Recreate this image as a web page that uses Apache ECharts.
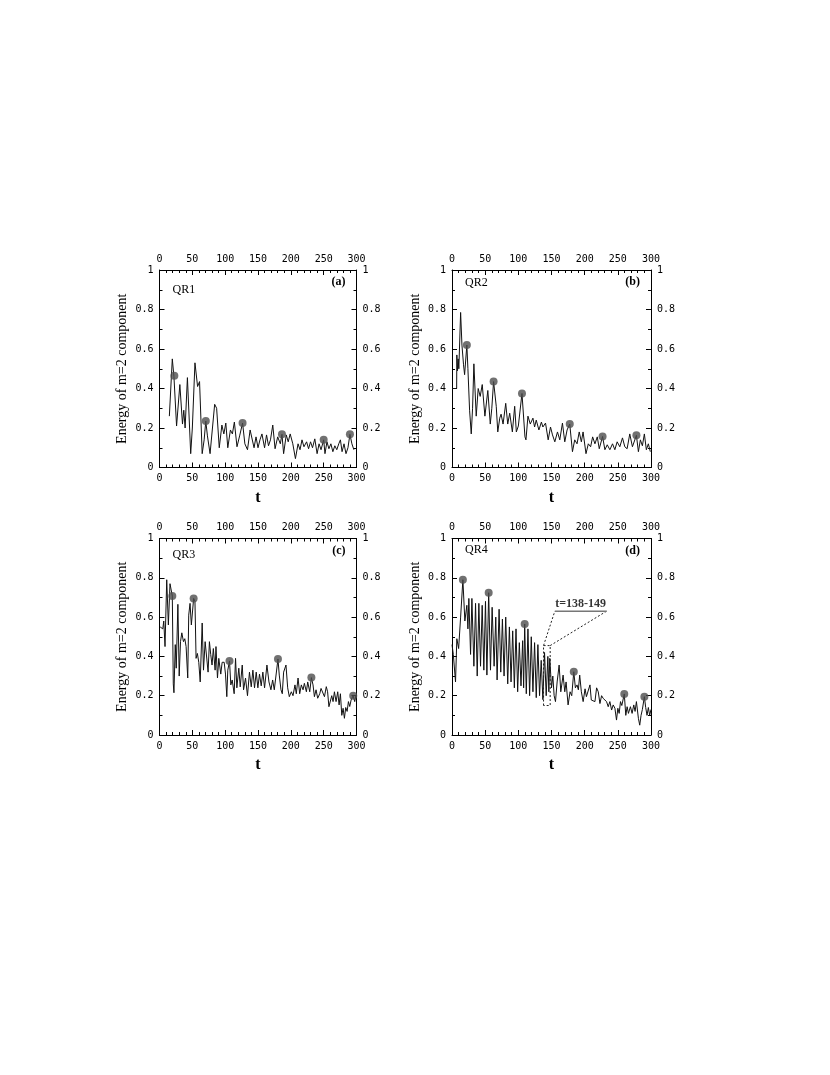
<!DOCTYPE html>
<html>
<head>
<meta charset="utf-8">
<script src="https://cdn.jsdelivr.net/npm/echarts@6/dist/echarts.min.js"></script>
<style>
html,body{margin:0;padding:0;background:#fff;}
#chart{width:830px;height:1075px;}
</style>
</head>
<body>
<div id="chart"></div>
<script>
// ---- data (t, energy of m=2 component) ----
const panelNames = ['QR1', 'QR2', 'QR3', 'QR4'];
const panelTags = ['(a)', '(b)', '(c)', '(d)'];
const xTickValues = [0, 50, 100, 150, 200, 250, 300];
const yTickValues = [0, 0.2, 0.4, 0.6, 0.8, 1];

const qr1 = [[15,0.26],[19.5,0.55],[22,0.46],[26,0.21],[31,0.42],[35,0.22],[37,0.29],[39,0.2],[42.5,0.455],[47.5,0.07],[50,0.2],[54,0.53],[58,0.41],[61,0.435],[65,0.07],[68,0.14],[70.5,0.235],[73,0.16],[77,0.07],[84,0.32],[87,0.3],[91,0.1],[95,0.215],[98,0.17],[101,0.225],[104,0.1],[108,0.19],[111,0.17],[114,0.23],[118,0.105],[122,0.16],[126.5,0.225],[130,0.12],[134,0.09],[138,0.19],[141,0.18],[144,0.1],[147,0.155],[150,0.1],[153,0.14],[156,0.17],[160,0.1],[163,0.165],[166,0.11],[169,0.14],[172.5,0.215],[176,0.095],[180,0.155],[184,0.12],[186.5,0.168],[189,0.07],[193,0.165],[196,0.13],[199,0.17],[203,0.12],[207,0.045],[211,0.12],[214,0.09],[217,0.14],[220,0.105],[224,0.13],[227,0.095],[230,0.13],[233,0.1],[236.5,0.145],[240,0.07],[243,0.12],[246,0.09],[250,0.14],[252,0.07],[255,0.13],[258,0.095],[261,0.12],[264,0.08],[267,0.11],[270,0.09],[273,0.12],[275.5,0.14],[278,0.08],[281,0.12],[284,0.07],[287,0.1],[290,0.168],[293,0.12],[296,0.09]];
const qr1Marks = [[22.6,0.465],[70.5,0.235],[126.5,0.225],[186.5,0.168],[250,0.14],[290,0.168]];

const qr2 = [[0,0.40],[7,0.40],[7.3,0.57],[8.3,0.49],[9.3,0.55],[10.3,0.5],[13,0.785],[15,0.62],[17.4,0.52],[19,0.47],[22.4,0.62],[24,0.5],[26.5,0.29],[27.5,0.3],[29,0.17],[31,0.3],[33,0.525],[36.5,0.26],[39.5,0.4],[42.5,0.36],[45.6,0.42],[49.6,0.26],[54,0.39],[57.7,0.22],[60,0.3],[62.7,0.435],[66.7,0.31],[69,0.18],[72,0.25],[74,0.27],[77,0.22],[81,0.325],[84,0.22],[87,0.275],[91,0.18],[94.5,0.31],[97,0.18],[100,0.21],[102,0.2],[105.5,0.375],[110,0.155],[111.5,0.14],[114.5,0.26],[118,0.22],[122,0.25],[124.5,0.205],[127,0.24],[131,0.19],[134.8,0.23],[137,0.205],[141,0.225],[145,0.14],[148.5,0.205],[151.5,0.165],[155,0.13],[159,0.18],[162.5,0.14],[166.5,0.225],[170,0.13],[173.5,0.19],[177.5,0.22],[181.6,0.08],[185,0.14],[188.5,0.12],[191.8,0.18],[195,0.13],[197.6,0.18],[202,0.07],[205.5,0.12],[209,0.105],[212,0.155],[215.5,0.12],[219,0.155],[222,0.095],[227,0.157],[230.5,0.09],[234,0.115],[238,0.09],[242,0.12],[245.5,0.09],[249,0.13],[253,0.105],[257,0.15],[260.5,0.105],[264,0.095],[268,0.17],[272,0.105],[278,0.163],[281,0.08],[284,0.14],[287,0.11],[290,0.17],[293,0.09],[296,0.12],[299,0.08]];
const qr2Marks = [[22.4,0.62],[62.7,0.435],[105.5,0.375],[177.5,0.22],[227,0.157],[278,0.163]];

const qr3 = [[1,0.55],[3,0.56],[5,0.54],[6.5,0.58],[8.4,0.45],[11,0.79],[13.5,0.56],[16,0.77],[18.6,0.78],[19.5,0.707],[21,0.26],[22,0.215],[24,0.46],[25.5,0.34],[28,0.665],[30,0.3],[32,0.475],[34,0.52],[36.5,0.475],[38.5,0.49],[40.5,0.45],[43,0.29],[44.5,0.61],[46.5,0.67],[48.5,0.56],[52,0.695],[54,0.68],[55.7,0.39],[57.7,0.415],[59.8,0.37],[62,0.27],[65,0.57],[67,0.33],[69.5,0.475],[72,0.465],[74,0.32],[76,0.475],[78,0.41],[80,0.356],[82,0.44],[84.7,0.33],[86,0.45],[88.3,0.29],[90.3,0.39],[93.3,0.31],[95.4,0.37],[98.5,0.37],[100.5,0.31],[102.5,0.195],[104,0.33],[106.6,0.377],[108.6,0.255],[110.7,0.28],[113.7,0.21],[115.8,0.39],[117.8,0.24],[120.8,0.34],[122.9,0.245],[126,0.356],[128,0.23],[131,0.29],[134,0.2],[137,0.32],[139.7,0.245],[142.2,0.33],[144.7,0.24],[147.3,0.32],[149.8,0.24],[152.3,0.31],[154.9,0.25],[157.4,0.32],[160,0.24],[163.6,0.356],[166.7,0.27],[169.7,0.23],[172.3,0.28],[174.8,0.23],[180.4,0.387],[182.4,0.305],[185,0.23],[187,0.21],[189,0.32],[192.6,0.356],[195.2,0.24],[197.7,0.195],[200.8,0.22],[203.3,0.2],[206.3,0.255],[208.3,0.21],[211,0.29],[213.5,0.21],[216,0.255],[218.6,0.23],[220.6,0.263],[223.7,0.22],[225.7,0.27],[228.8,0.22],[231.3,0.292],[233.8,0.255],[235.9,0.195],[238.4,0.23],[240.9,0.187],[244,0.21],[246,0.237],[249,0.23],[251.2,0.195],[254,0.246],[256,0.22],[258,0.144],[260,0.153],[262.3,0.2],[264.3,0.17],[266.4,0.22],[268.9,0.17],[271.4,0.22],[273.5,0.153],[275.5,0.21],[277.6,0.1],[279.6,0.136],[281.6,0.085],[283.6,0.14],[285.7,0.12],[287.7,0.17],[289.7,0.145],[291.8,0.178],[294.8,0.2],[297.3,0.17],[299,0.2]];
const qr3Marks = [[19.5,0.707],[52,0.695],[106.6,0.377],[180.4,0.387],[231.3,0.292],[295,0.2]];

const qr4 = [[0,0.46],[2,0.41],[5.3,0.27],[7.3,0.49],[10,0.44],[13,0.6],[16.4,0.79],[19.4,0.58],[22.4,0.66],[24,0.54],[25.4,0.695],[28,0.41],[30,0.695],[33,0.35],[35.5,0.67],[38,0.3],[40.5,0.67],[43,0.35],[45.5,0.66],[48,0.33],[50.5,0.68],[52.6,0.305],[55.3,0.724],[58,0.33],[60.5,0.65],[63.5,0.35],[66,0.6],[68,0.28],[71,0.64],[73.5,0.32],[76,0.59],[78.5,0.3],[81,0.6],[84,0.26],[86.5,0.55],[89,0.27],[91.5,0.53],[94,0.24],[96.5,0.54],[99,0.22],[101.5,0.47],[104,0.25],[106.5,0.48],[108,0.24],[109.6,0.565],[112,0.21],[114.5,0.54],[117,0.2],[119.5,0.5],[122,0.22],[124.5,0.47],[127,0.19],[129.5,0.46],[132,0.2],[134.5,0.38],[137,0.18],[139.5,0.42],[142,0.2],[144.5,0.4],[146,0.22],[147.4,0.39],[150,0.24],[152,0.3],[154,0.2],[156,0.17],[158.5,0.27],[161.5,0.356],[164,0.22],[167.5,0.305],[170,0.22],[172,0.27],[175,0.153],[178,0.22],[180.5,0.2],[183.6,0.322],[186,0.24],[188.5,0.255],[190.5,0.23],[192.5,0.305],[195,0.22],[197.7,0.17],[200.6,0.235],[202.6,0.195],[205,0.2],[208,0.255],[210,0.178],[213,0.186],[215.5,0.17],[218,0.24],[220.5,0.22],[223,0.16],[225.5,0.2],[228,0.186],[231,0.195],[233,0.17],[235.5,0.144],[238,0.17],[240.6,0.127],[243,0.153],[245.6,0.136],[248,0.076],[250,0.136],[252,0.11],[254,0.17],[256,0.15],[259.7,0.209],[262,0.1],[264,0.144],[266,0.11],[269,0.144],[271.5,0.11],[274,0.153],[276,0.12],[278,0.17],[281,0.085],[283,0.05],[285,0.1],[287,0.13],[290,0.195],[292,0.14],[294,0.1],[296,0.14],[298,0.1],[300,0.13]];
const qr4Marks = [[16.4,0.79],[55.3,0.724],[109.6,0.565],[183.6,0.322],[259.7,0.209],[290,0.195]];

// annotation in panel (d): zoom window t=138-149
const annText = 't=138-149';
const annRect = [[138,0.15],[138,0.455],[148,0.455],[148,0.15],[138,0.15]];
const annLeftLeader = [[138,0.455],[155,0.63]];
const annRightLeader = [[148,0.455],[233,0.63]];
const annUnderline = [[155,0.63],[233,0.63]];
const annLabelPos = [[194,0.63]];

const seriesData = [qr1, qr2, qr3, qr4];
const markData = [qr1Marks, qr2Marks, qr3Marks, qr4Marks];

// ---- layout ----
const grids = [
  {left:159.5, top:270, width:197, height:197.5},
  {left:452, top:270, width:199, height:197.5},
  {left:159.5, top:538.5, width:197, height:196.5},
  {left:452, top:538.5, width:199, height:196.5}
];

const black = '#000';
const tickFont = 'DejaVu Sans Mono';
const serif = 'Liberation Serif';

function xAxisDef(g, pos) {
  return {
    type:'value', gridIndex:g, position:pos, min:0, max:300, interval:50,
    axisLine:{show:true, onZero:false, lineStyle:{color:black, width:1}},
    axisTick:{show:true, inside:true, length:5, lineStyle:{color:black, width:1}},
    minorTick:{show:true, splitNumber:5, length:3, lineStyle:{color:black, width:1}},
    splitLine:{show:false}, minorSplitLine:{show:false},
    axisLabel:{show:true, margin:6, fontFamily:tickFont, fontSize:10, color:black,
      customValues: xTickValues},
    name: pos === 'bottom' ? 't' : '',
    nameLocation:'middle', nameGap:22,
    nameTextStyle:{fontFamily:serif, fontWeight:'bold', fontSize:16, color:black}
  };
}
function yAxisDef(g, pos) {
  return {
    type:'value', gridIndex:g, position:pos, min:0, max:1, interval:0.2,
    axisLine:{show:true, onZero:false, lineStyle:{color:black, width:1}},
    axisTick:{show:true, inside:true, length:5, lineStyle:{color:black, width:1}},
    minorTick:{show:true, splitNumber:2, length:3, lineStyle:{color:black, width:1}},
    splitLine:{show:false}, minorSplitLine:{show:false},
    axisLabel:{show:true, margin:6, fontFamily:tickFont, fontSize:10, color:black,
      formatter: v => (v === 0 ? '0' : (Math.abs(v - 1) < 1e-9 ? '1' : v.toFixed(1)))},
    name: pos === 'left' ? 'Energy of m=2 component' : '',
    nameLocation:'middle', nameGap:30,
    nameTextStyle:{fontFamily:serif, fontSize:14, color:black}
  };
}

const xAxes = [], yAxes = [], series = [];
for (let g = 0; g < 4; g++) {
  xAxes.push(xAxisDef(g, 'bottom'));
  xAxes.push(xAxisDef(g, 'top'));
  yAxes.push(yAxisDef(g, 'left'));
  yAxes.push(yAxisDef(g, 'right'));
  series.push({
    type:'line', xAxisIndex:2*g, yAxisIndex:2*g, data:seriesData[g],
    showSymbol:false, symbol:'none', smooth:false,
    lineStyle:{color:'#111', width:1}, animation:false, z:3
  });
  series.push({
    type:'scatter', xAxisIndex:2*g, yAxisIndex:2*g, data:markData[g],
    symbol:'circle', symbolSize:8, itemStyle:{color:'#4d4d4d'}, animation:false, z:5
  });
}

// annotation series (panel d)
const annStyle = {type:'line', xAxisIndex:6, yAxisIndex:6, showSymbol:false, symbol:'none', animation:false, z:4};
series.push(Object.assign({}, annStyle, {data:annRect, lineStyle:{color:'#222', width:1, type:[2,2]}}));
series.push(Object.assign({}, annStyle, {data:annLeftLeader, lineStyle:{color:'#222', width:1, type:[2,2]}}));
series.push(Object.assign({}, annStyle, {data:annRightLeader, lineStyle:{color:'#222', width:1, type:[2,2]}}));
series.push(Object.assign({}, annStyle, {data:annUnderline, lineStyle:{color:'#777', width:1.5}}));
series.push({
  type:'scatter', xAxisIndex:6, yAxisIndex:6, data:annLabelPos, symbolSize:0, animation:false,
  label:{show:true, position:'top', distance:1, formatter:annText,
    fontFamily:serif, fontWeight:'bold', fontSize:12, color:black}
});

// panel labels
const graphics = [];
const qrOffsets = [21, 14, 17, 12];
for (let g = 0; g < 4; g++) {
  const gr = grids[g];
  graphics.push({type:'text', left:gr.left + 13, top:gr.top + qrOffsets[g] - 7,
    style:{text:panelNames[g], font:'12px "Liberation Serif"', fill:black}});
  graphics.push({type:'text', right:830 - (gr.left + gr.width) + 11, top:gr.top + 6,
    style:{text:panelTags[g], font:'bold 12px "Liberation Serif"', fill:black}});
}

const chart = echarts.init(document.getElementById('chart'), null, {renderer:'canvas'});
chart.setOption({
  backgroundColor:'#fff',
  animation:false,
  grid: grids.map(g => Object.assign({containLabel:false}, g)),
  xAxis: xAxes,
  yAxis: yAxes,
  series: series,
  graphic: graphics
});
</script>
</body>
</html>
